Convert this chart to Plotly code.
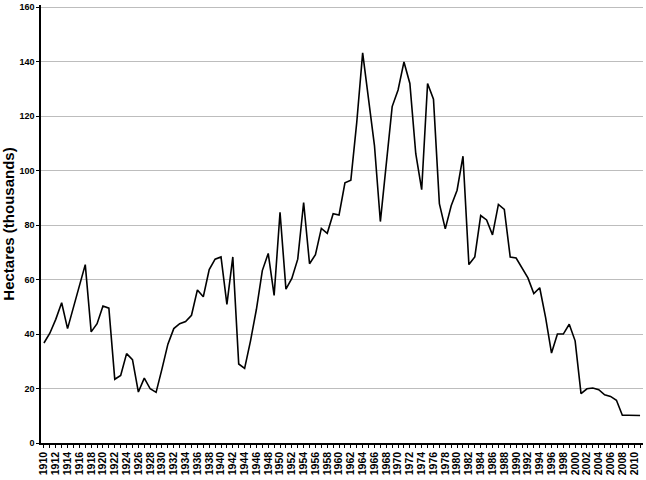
import plotly.graph_objects as go

years = list(range(1910, 2012))
hectares = [
    36.7, 40.3, 45.4, 51.5, 42.0, 49.7, 57.2, 65.5, 40.8, 43.8,   # 1910-1919
    50.3, 49.5, 23.4, 24.8, 32.8, 30.6, 18.7, 23.8, 19.9, 18.6,   # 1920-1929
    27.2, 36.3, 42.0, 43.8, 44.6, 46.9, 56.2, 53.7, 63.7, 67.5,   # 1930-1939
    68.3, 50.9, 68.3, 29.0, 27.4, 37.5, 49.1, 63.3, 69.6, 54.2,   # 1940-1949
    84.7, 56.5, 60.4, 67.5, 88.3, 65.8, 69.1, 78.8, 77.0, 84.2,   # 1950-1959
    83.7, 95.5, 96.5, 117.7, 143.2, 126.2, 109.2, 81.3, 101.9, 123.5,  # 1960-1969
    129.6, 139.9, 132.0, 106.2, 93.0, 132.0, 126.2, 87.9, 78.6, 87.1,  # 1970-1979
    92.8, 105.3, 65.5, 68.3, 83.5, 81.9, 76.4, 87.6, 85.8, 68.3,   # 1980-1989
    67.9, 64.3, 60.6, 54.9, 57.0, 46.0, 33.0, 40.0, 40.0, 43.6,    # 1990-1999
    37.5, 18.1, 19.9, 20.2, 19.6, 17.7, 17.1, 15.7, 10.2, 10.2,    # 2000-2009
    10.2, 10.1,                                                    # 2010-2011
]
x_tick_step = 2
y_tick_step = 20
y_max = 160
y_title = "Hectares (thousands)"

fig = go.Figure()
fig.add_trace(go.Scatter(
    x=years, y=hectares, mode="lines",
    line=dict(color="#000000", width=1.6),
    hoverinfo="skip", showlegend=False,
))

fig.update_layout(
    width=646, height=480,
    margin=dict(l=40, r=3, t=2, b=37),
    paper_bgcolor="white", plot_bgcolor="white",
    font=dict(family="Liberation Sans, Arial, sans-serif", color="#000000"),
    showlegend=False,
)
fig.update_xaxes(
    range=[years[0] - 0.5, years[-1] + 0.5],
    tickmode="linear", tick0=years[0], dtick=x_tick_step,
    tickangle=-90, tickfont=dict(size=10.5, weight="bold"),
    ticks="outside", ticklen=3, tickwidth=1, tickcolor="#000",
    minor=dict(dtick=1, tick0=years[0], ticks="outside", ticklen=3, tickcolor="#000", showgrid=False),
    showline=True, linecolor="#000", linewidth=1.5,
    showgrid=False, zeroline=False, fixedrange=True,
)
fig.update_yaxes(
    range=[0, y_max + 0.8],
    tickmode="linear", tick0=0, dtick=y_tick_step,
    tickfont=dict(size=9, weight="bold"),
    ticklabeloverflow="allow",
    ticks="outside", ticklen=3, tickwidth=1, tickcolor="#000",
    showline=True, linecolor="#000", linewidth=1.5,
    showgrid=True, gridcolor="#bdbdbd", gridwidth=1,
    zeroline=False, fixedrange=True,
    title=dict(text=y_title, font=dict(size=15, weight="bold"), standoff=7),
)

fig.write_html("out.html")
